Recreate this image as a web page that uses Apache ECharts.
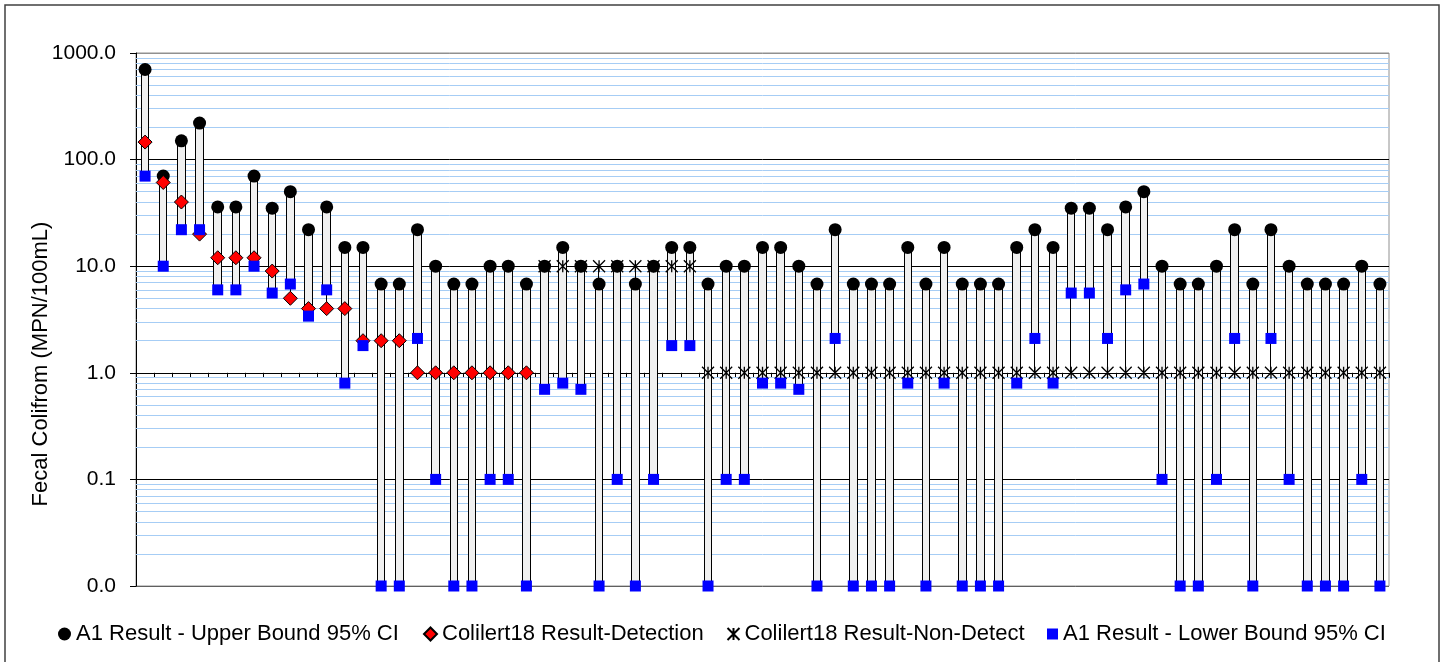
<!DOCTYPE html>
<html>
<head>
<meta charset="utf-8">
<title>Fecal Coliform – A1 vs Colilert18</title>
<script src="https://cdn.jsdelivr.net/npm/echarts@6/dist/echarts.min.js"></script>
<style>
  html, body { margin: 0; padding: 0; background: #fff; }
  #chart { width: 1445px; height: 662px; }
</style>
</head>
<body>
<div id="chart"></div>
<script>
// Sample numbers (no labels are printed on the category axis)
const samples = Array.from({ length: 69 }, (_, i) => String(i + 1));

// A1 result, upper bound of the 95% confidence interval (MPN/100mL)
const upperBound = [
  700, 70, 150, 220, 36, 36, 70, 35, 50, 22, 36, 15, 15,
  6.8, 6.8, 22, 10, 6.8, 6.8, 10, 10, 6.8,
  10, 15, 10, 6.8, 10, 6.8, 10, 15, 15,
  6.8, 10, 10, 15, 15, 10, 6.8, 22,
  6.8, 6.8, 6.8, 15, 6.8, 15, 6.8, 6.8, 6.8,
  15, 22, 15, 35, 35, 22, 36, 50,
  10, 6.8, 6.8, 10, 22, 6.8, 22, 10, 6.8, 6.8, 6.8, 10, 6.8
];

// A1 result, lower bound of the 95% confidence interval (0.01 plots on the "0.0" line)
const lowerBound = [
  70, 10, 22, 22, 6, 6, 10, 5.6, 6.8, 3.4, 6, 0.8, 1.8,
  0.01, 0.01, 2.1, 0.1, 0.01, 0.01, 0.1, 0.1, 0.01,
  0.7, 0.8, 0.7, 0.01, 0.1, 0.01, 0.1, 1.8, 1.8,
  0.01, 0.1, 0.1, 0.8, 0.8, 0.7, 0.01, 2.1,
  0.01, 0.01, 0.01, 0.8, 0.01, 0.8, 0.01, 0.01, 0.01,
  0.8, 2.1, 0.8, 5.6, 5.6, 2.1, 6, 6.8,
  0.1, 0.01, 0.01, 0.1, 2.1, 0.01, 2.1, 0.1, 0.01, 0.01, 0.01, 0.1, 0.01
];

// Colilert18 detections
const detection = [
  146, 61, 40, 20, 12, 12, 12, 9, 5, 4, 4, 4, 2,
  2, 2, 1, 1, 1, 1, 1, 1, 1,
  null, null, null, null, null, null, null, null, null,
  null, null, null, null, null, null, null, null,
  null, null, null, null, null, null, null, null, null,
  null, null, null, null, null, null, null, null,
  null, null, null, null, null, null, null, null, null, null, null, null, null
];

// Colilert18 non-detects (plotted at the reporting limit)
const nonDetect = [
  null, null, null, null, null, null, null, null, null, null, null, null, null,
  null, null, null, null, null, null, null, null, null,
  10, 10, 10, 10, 10, 10, 10, 10, 10,
  1, 1, 1, 1, 1, 1, 1, 1,
  1, 1, 1, 1, 1, 1, 1, 1, 1,
  1, 1, 1, 1, 1, 1, 1, 1,
  1, 1, 1, 1, 1, 1, 1, 1, 1, 1, 1, 1, 1
];

// Log-axis decades
const yMin = 0.01, yMax = 1000;

const seriesNames = [
  'A1 Result - Upper Bound 95% CI',
  'Colilert18 Result-Detection',
  'Colilert18 Result-Non-Detect',
  'A1 Result - Lower Bound 95% CI'
];

// Stock-style bars: body spans upper..lower bound, whisker spans all values in the sample
const stockData = samples.map((_, i) => {
  const vals = [upperBound[i], lowerBound[i], detection[i], nonDetect[i]].filter(v => v != null);
  return [upperBound[i], lowerBound[i], Math.min(...vals), Math.max(...vals)];
});

// Minor gridlines at 2..9 within each decade
const minorLines = [];
for (let d = yMin; d < yMax; d *= 10) {
  for (let k = 2; k <= 9; k++) minorLines.push({ yAxis: +(d * k).toPrecision(3) });
}

const FONT = "'Liberation Sans', Arial, sans-serif";
const asteriskPath = 'path://M0,0L12,12M12,0L0,12M6,0L6,12';

const gridTop = 53, gridBottom = 76, chartH = 662;
const plotH = chartH - gridTop - gridBottom;
// Category axis crosses the value axis at 1.0 (two decades above the 0.01 floor)
const crossOffset = -plotH * 2 / 5;

const chart = echarts.init(document.getElementById('chart'), null, { renderer: 'canvas' });

function legendAt(left, name, icon, w, h) {
  return {
    left: left, top: 623, orient: 'horizontal', padding: 0,
    itemWidth: w, itemHeight: h, itemGap: 0,
    selectedMode: false,
    textStyle: { fontFamily: FONT, fontSize: 22, color: '#000', lineHeight: 22 },
    data: [{ name: name, icon: icon }]
  };
}

chart.setOption({
  animation: false,
  backgroundColor: '#fff',
  grid: {
    left: 136, right: 56, top: gridTop, bottom: gridBottom,
    show: true, borderColor: '#909090', borderWidth: 1, backgroundColor: 'transparent'
  },
  legend: [
    legendAt(58, seriesNames[0], 'circle', 13, 13),
    legendAt(423, seriesNames[1], 'diamond', 13, 13),
    legendAt(725, seriesNames[2], asteriskPath, 12, 12),
    legendAt(1047, seriesNames[3], 'rect', 11, 11)
  ],
  graphic: [
    {
      type: 'rect', silent: true, z: 100,
      shape: { x: 5, y: 5, width: 1434, height: 700 },
      style: { fill: 'none', stroke: '#404040', lineWidth: 1.5 }
    },
    {
      type: 'text', silent: true,
      x: 41, y: 364, rotation: Math.PI / 2,
      style: {
        text: 'Fecal Colifrom (MPN/100mL)',
        fontFamily: FONT, fontSize: 22, fill: '#000',
        align: 'center', verticalAlign: 'middle'
      }
    }
  ],
  xAxis: {
    type: 'category',
    data: samples,
    boundaryGap: true,
    position: 'bottom',
    offset: crossOffset,
    axisLine: { show: true, lineStyle: { color: '#000', width: 1 } },
    axisTick: { show: true, interval: 0, length: 5, inside: false, lineStyle: { color: '#000', width: 1 } },
    axisLabel: { show: false },
    splitLine: { show: false }
  },
  yAxis: {
    type: 'log',
    logBase: 10,
    min: yMin,
    max: yMax,
    axisLine: { show: true, lineStyle: { color: '#000', width: 1 } },
    axisTick: { show: true, length: 6, inside: false, lineStyle: { color: '#000' } },
    axisLabel: {
      margin: 20, fontFamily: FONT, fontSize: 21, color: '#000',
      formatter: v => Number(v).toFixed(1)
    },
    splitLine: {
      show: true,
      lineStyle: { color: ['#606060', '#000', '#000', '#000', '#000', '#909090'], width: 1 }
    }
  },
  series: [
    {
      // carrier for the light-blue minor gridlines
      type: 'line', name: 'minor-grid', data: [], z: 1, silent: true,
      markLine: {
        silent: true, symbol: 'none', z: 1, animation: false,
        label: { show: false },
        lineStyle: { color: '#a6cdf5', width: 1, type: 'solid' },
        emphasis: { disabled: true },
        data: minorLines
      }
    },
    {
      type: 'candlestick', name: 'range', data: stockData, barWidth: 8, z: 2, silent: true,
      itemStyle: {
        color: '#f0f0f0', color0: '#f0f0f0',
        borderColor: '#000', borderColor0: '#000', borderColorDoji: '#000',
        borderWidth: 1
      },
      emphasis: { disabled: true }
    },
    {
      type: 'scatter', name: seriesNames[0], data: upperBound, z: 3,
      symbol: 'circle', symbolSize: 13, silent: true,
      itemStyle: { color: '#000', borderColor: '#000', borderWidth: 0, opacity: 1 }
    },
    {
      type: 'scatter', name: seriesNames[1], data: detection, z: 4,
      symbol: 'diamond', symbolSize: 14, silent: true,
      itemStyle: { color: '#ff0000', borderColor: '#000', borderWidth: 1, opacity: 1 }
    },
    {
      type: 'scatter', name: seriesNames[2], data: nonDetect, z: 5,
      symbol: asteriskPath, symbolSize: 12, silent: true,
      itemStyle: { color: 'none', borderColor: '#000', borderWidth: 1.3, opacity: 1 }
    },
    {
      type: 'scatter', name: seriesNames[3], data: lowerBound, z: 6,
      symbol: 'rect', symbolSize: 11, silent: true,
      itemStyle: { color: '#0000ff', borderWidth: 0, opacity: 1 }
    }
  ]
});
</script>
</body>
</html>
